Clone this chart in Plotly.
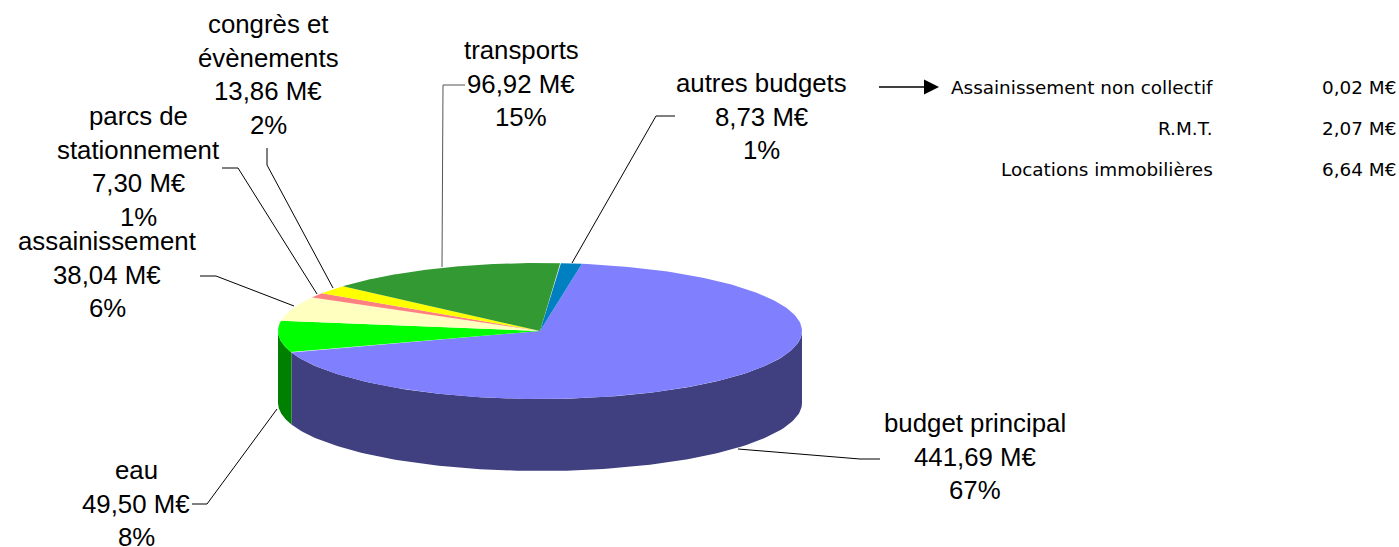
import numpy as np
import plotly.graph_objects as go

# ---- data ----
names = ["budget principal", "eau", "assainissement", "parcs de\nstationnement",
         "congrès et\névènements", "transports", "autres budgets"]
values = [441.69, 49.50, 38.04, 7.30, 13.86, 96.92, 8.73]
percents = [67, 8, 6, 1, 2, 15, 1]
detail_names = ["Assainissement non collectif", "R.M.T.", "Locations immobilières"]
detail_values = [0.02, 2.07, 6.64]

# ---- styles / layout ----
top_colors = ["#8080FF", "#00FF00", "#FFFFC0", "#FF8080", "#FFFF00", "#339933", "#0080C0"]
side_colors = ["#404080", "#008000", "#808060", "#804040", "#808000", "#1A4D1A", "#004060"]
W, H = 1399, 547
CX, CY, RX, RY, DEPTH = 540, 331, 262, 68, 72
START_DEG = 9.2
LABEL_FONT = "Liberation Sans"
LABEL_SIZE = 25.8
LINE_H = 33.7
# label centre x and first line centre y
label_pos = [(975, 423), (136, 470), (107, 241), (138, 116), (268, 24), (521, 50), (761, 83)]
leaders = [
    [(880, 459), (860, 459), (738, 449)],
    [(192, 504), (207, 504), (277, 409)],
    [(200, 276), (216, 276), (294, 306)],
    [(222, 168), (238, 168), (317, 294)],
    [(267, 148), (267, 165), (333, 288)],
    [(465, 85), (443, 85), (442, 267)],
    [(675, 116), (656, 116), (572, 263)],
]
leader_colors = ["#000000"] * 5 + ["#555555", "#000000"]


def pt(deg, dy=0.0):
    a = np.radians(deg)
    return CX + RX * np.sin(a), CY - RY * np.cos(a) + dy


def fr(v):
    return f"{v:.2f}".replace(".", ",") + " M€"


total = sum(values)
edges = START_DEG + np.concatenate([[0], np.cumsum(values)]) / total * 360.0

fig = go.Figure()

# side walls: only the part of each slice on the front half of the rim
for i in range(len(values)):
    for lo, hi in [(90, 270), (450, 630)]:
        a0, a1 = max(edges[i], lo), min(edges[i + 1], hi)
        if a1 <= a0:
            continue
        t = np.linspace(a0, a1, 120)
        xt, yt = pt(t)
        xb, yb = pt(t[::-1], DEPTH)
        fig.add_trace(go.Scatter(
            x=np.r_[xt, xb, xt[0]], y=np.r_[yt, yb, yt[0]], mode="lines",
            fill="toself", fillcolor=side_colors[i], line=dict(width=0),
            hoverinfo="skip", showlegend=False))

# top faces
for i in range(len(values)):
    t = np.linspace(edges[i], edges[i + 1], 200)
    x, y = pt(t)
    fig.add_trace(go.Scatter(
        x=np.r_[CX, x, CX], y=np.r_[CY, y, CY], mode="lines",
        fill="toself", fillcolor=top_colors[i], line=dict(width=0),
        hoverinfo="skip", showlegend=False))

# leader lines
for pts, c in zip(leaders, leader_colors):
    fig.add_trace(go.Scatter(
        x=[p[0] for p in pts], y=[p[1] for p in pts], mode="lines",
        line=dict(color=c, width=1), hoverinfo="skip", showlegend=False))

annotations = []


def put(x, y, text, font, size, anchor="center"):
    annotations.append(dict(
        x=x, y=y, xref="x", yref="y", text=text, showarrow=False,
        xanchor=anchor, yanchor="middle",
        font=dict(family=font, size=size, color="#000000")))


for name, v, p, (lx, ly) in zip(names, values, percents, label_pos):
    lines = name.split("\n") + [fr(v), f"{p}%"]
    for k, line in enumerate(lines):
        put(lx, ly + k * LINE_H, line, LABEL_FONT, LABEL_SIZE)

# detail table
DETAIL_FONT = "DejaVu Sans"
DETAIL_SIZE = 18.4
for k, (n, v) in enumerate(zip(detail_names, detail_values)):
    y = 87 + k * 41
    put(1215, y, n, DETAIL_FONT, DETAIL_SIZE, "right")
    put(1398, y, fr(v), DETAIL_FONT, DETAIL_SIZE, "right")

shapes = [
    dict(type="line", x0=879, y0=87, x1=925, y1=87, line=dict(color="#000000", width=1.5)),
    dict(type="path", path="M 924 79.5 L 939 87 L 924 94.5 Z", fillcolor="#000000", line=dict(width=0)),
]

fig.update_layout(
    width=W, height=H, margin=dict(l=0, r=0, t=0, b=0),
    paper_bgcolor="#FFFFFF", plot_bgcolor="#FFFFFF", showlegend=False,
    xaxis=dict(range=[0, W], visible=False, fixedrange=True),
    yaxis=dict(range=[H, 0], visible=False, fixedrange=True),
    annotations=annotations, shapes=shapes)

fig.write_html("out.html", config=dict(displayModeBar=False),
               post_script="document.body.style.margin='0';document.body.style.overflow='hidden';")
